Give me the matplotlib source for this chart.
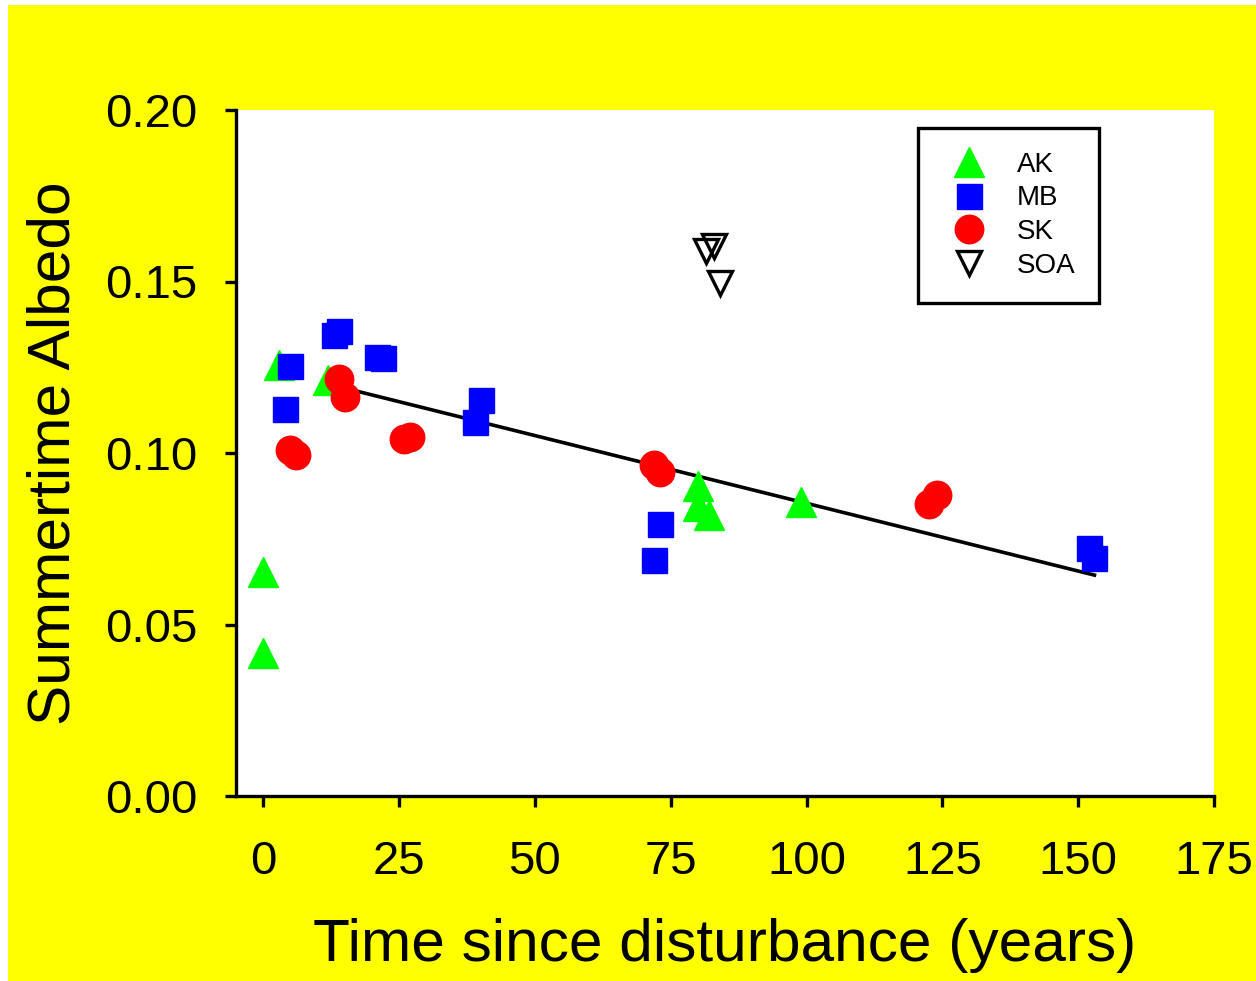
import matplotlib
matplotlib.use("Agg")
import matplotlib.pyplot as plt
from matplotlib.patches import Rectangle

plt.rcParams["font.family"] = ["Liberation Sans", "DejaVu Sans"]

# AK sites
ak_x = [0, 0, 3, 12, 80, 80, 82, 99]
ak_y = [0.0653, 0.0418, 0.1257, 0.1213, 0.0905, 0.0845, 0.0820, 0.0857]
# MB sites
mb_x = [5, 4, 13, 14, 21, 22, 40, 39, 73, 72, 152, 153]
mb_y = [0.1254, 0.1128, 0.1344, 0.1356, 0.1280, 0.1277, 0.1154, 0.1090,
        0.0794, 0.0688, 0.0723, 0.0694]
# SK sites
sk_x = [5, 6, 14, 15, 26, 27, 72, 73, 122.5, 124]
sk_y = [0.1009, 0.0994, 0.1216, 0.1164, 0.1042, 0.1047, 0.0965, 0.0945,
        0.0851, 0.0878]
# SOA sites
soa_x = [81.5, 83, 84]
soa_y = [0.1589, 0.1603, 0.1496]
# regression line
fit_x = [12, 153]
fit_y = [0.1201, 0.0644]

fig = plt.figure(figsize=(12.56, 9.81), dpi=100)
fig.patch.set_facecolor("white")
fig.patches.append(Rectangle((8 / 1256, 0), 1 - 8 / 1256, 1 - 5 / 981,
                             transform=fig.transFigure, facecolor="#ffff00",
                             edgecolor="none", zorder=-10))

ax = fig.add_axes([236 / 1256, 185 / 981, (1214 - 236) / 1256, (796 - 110) / 981])
ax.set_facecolor("white")

ax.plot(fit_x, fit_y, color="black", lw=2.6, zorder=2)
ax.plot(ak_x, ak_y, "^", color="#00ff00", ms=21, mec="#00ff00", mew=1, label="AK", zorder=3)
ax.plot(mb_x, mb_y, "s", color="#0000ff", ms=18, mec="#0000ff", mew=1, label="MB", zorder=3)
ax.plot(sk_x, sk_y, "o", color="#ff0000", ms=20.5, mec="#ff0000", mew=1, label="SK", zorder=3)
ax.plot(soa_x, soa_y, "v", mfc="none", mec="black", ms=17, mew=2.4, label="SOA", zorder=3)

ax.set_xlim(-5, 175)
ax.set_ylim(0, 0.20)
ax.set_xticks([0, 25, 50, 75, 100, 125, 150, 175])
ax.set_yticks([0.00, 0.05, 0.10, 0.15, 0.20])
ax.set_yticklabels(["0.00", "0.05", "0.10", "0.15", "0.20"])

for s in ["top", "right"]:
    ax.spines[s].set_visible(False)
for s in ["left", "bottom"]:
    ax.spines[s].set_linewidth(2.4)
ax.tick_params(direction="out", length=8, width=2.4, labelsize=34)
ax.tick_params(axis="x", pad=24)
ax.tick_params(axis="y", pad=20)

ax.set_xlabel("Time since disturbance (years)", fontsize=43.5, labelpad=24)
ax.set_ylabel("Summertime Albedo", fontsize=43.5, labelpad=17)

leg = ax.legend(loc="upper left", bbox_to_anchor=((918 - 236) / 978, (796 - 128) / 686),
                fontsize=20, frameon=True, fancybox=False, edgecolor="black",
                handletextpad=0.7, labelspacing=0.28, borderpad=0.85,
                handlelength=2.0, borderaxespad=0, numpoints=1)
leg.get_frame().set_linewidth(2.4)
leg.get_frame().set_alpha(1)

fig.savefig("out.png", dpi=100, facecolor=fig.get_facecolor())
